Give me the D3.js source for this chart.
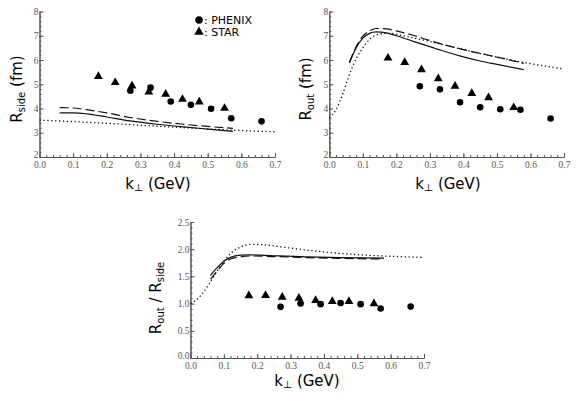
<!DOCTYPE html>
<html>
<head>
<meta charset="utf-8">
<script src="https://cdn.jsdelivr.net/npm/d3@7"></script>
<style>
  body { margin: 0; background: #fff; }
  svg { display: block; }
  .tick text { font-family: "Liberation Serif", "DejaVu Serif", serif; font-size: 9.5px; fill: #555; }
  .domain, .tick line { stroke: #555; }
</style>
</head>
<body>
<svg id="chart" width="577" height="397"></svg>
<script>
// k_T of the data points
const starK = [0.175, 0.225, 0.275, 0.325, 0.375, 0.425, 0.475, 0.55];
const phenixK = [0.27, 0.33, 0.39, 0.45, 0.51, 0.57, 0.66];

// R_side (fm)
const starSide = [5.32, 5.07, 4.93, 4.68, 4.59, 4.38, 4.27, 4.01];
const phenixSide = [4.73, 4.86, 4.29, 4.15, 3.99, 3.60, 3.47];
const sideK = [0.06, 0.1, 0.14, 0.2, 0.27, 0.35, 0.42, 0.5, 0.575];
const solidSide = [3.82, 3.82, 3.78, 3.65, 3.49, 3.35, 3.25, 3.15, 3.06];
const dashedSide = [4.04, 4.02, 3.95, 3.82, 3.63, 3.47, 3.36, 3.26, 3.18];
const dottedK = [0, 0.1, 0.2, 0.3, 0.4, 0.5, 0.6, 0.7];
const dottedSide = [3.52, 3.46, 3.39, 3.31, 3.23, 3.16, 3.09, 3.04];

// R_out (fm)
const starOut = [6.08, 5.90, 5.60, 5.23, 4.92, 4.62, 4.45, 4.04];
const phenixOut = [4.92, 4.79, 4.26, 4.05, 3.97, 3.95, 3.59];
const outK = [0.06, 0.08, 0.1, 0.12, 0.14, 0.17, 0.2, 0.25, 0.3, 0.35, 0.4, 0.45, 0.5, 0.58];
const solidOut = [5.88, 6.5, 6.9, 7.1, 7.16, 7.12, 7.0, 6.77, 6.55, 6.33, 6.13, 5.96, 5.82, 5.6];
const dashedOut = [5.9, 6.55, 6.98, 7.2, 7.3, 7.28, 7.2, 7.02, 6.8, 6.6, 6.43, 6.27, 6.12, 5.86];
const dottedOutK = [0, 0.02, 0.04, 0.06, 0.08, 0.1, 0.12, 0.15, 0.18, 0.22, 0.3, 0.4, 0.5, 0.6, 0.7];
const dottedOut = [3.62, 3.95, 4.6, 5.4, 6.05, 6.5, 6.85, 7.07, 7.1, 7.0, 6.76, 6.43, 6.12, 5.85, 5.63];

// R_out / R_side
const starRatio = [1.145, 1.15, 1.12, 1.10, 1.06, 1.04, 1.04, 1.0];
const phenixRatio = [0.94, 1.0, 0.99, 1.01, 0.99, 0.91, 0.945];
const ratioK = [0.06, 0.08, 0.1, 0.12, 0.15, 0.18, 0.25, 0.35, 0.45, 0.58];
const solidRatio = [1.52, 1.66, 1.78, 1.85, 1.89, 1.895, 1.88, 1.86, 1.845, 1.835];
const dashedRatio = [1.45, 1.6, 1.74, 1.82, 1.86, 1.875, 1.865, 1.845, 1.83, 1.82];
const dottedRatio = [1.0, 1.08, 1.22, 1.4, 1.6, 1.78, 1.92, 2.04, 2.09, 2.08, 2.02, 1.95, 1.9, 1.87, 1.85];

const xTicks = [0, 0.1, 0.2, 0.3, 0.4, 0.5, 0.6, 0.7];

const svg = d3.select("#chart");
const zip = (xs, ys) => xs.map((x, i) => [x, ys[i]]);

function drawPanel(p) {
  const x = d3.scaleLinear().domain([0, 0.7]).range([p.left, p.right]);
  const y = d3.scaleLinear().domain(p.yDomain).range([p.bottom, p.top]);
  const g = svg.append("g");

  // minor ticks
  g.append("g").attr("transform", `translate(0,${p.bottom})`)
    .call(d3.axisBottom(x).tickValues(d3.range(0, 0.701, 0.02)).tickSizeInner(-2).tickSizeOuter(0).tickFormat(""));
  g.append("g").attr("transform", `translate(${p.left},0)`)
    .call(d3.axisLeft(y).tickValues(d3.range(p.yDomain[0], p.yDomain[1] + 1e-6, p.yMinor)).tickSizeInner(-2).tickSizeOuter(0).tickFormat(""));
  // major ticks
  g.append("g").attr("transform", `translate(0,${p.bottom})`)
    .call(d3.axisBottom(x).tickValues(xTicks).tickSizeInner(-4).tickSizeOuter(0).tickPadding(4).tickFormat(d3.format(".1f")));
  g.append("g").attr("transform", `translate(${p.left},0)`)
    .call(d3.axisLeft(y).tickValues(p.yTicks).tickSizeInner(-4).tickSizeOuter(0).tickPadding(1).tickFormat(p.yFormat))
    .call(a => a.selectAll(".tick text").filter(d => d === p.yDomain[0]).attr("dy", "0.1em"));

  const line = d3.line().x(d => x(d[0])).y(d => y(d[1])).curve(d3.curveMonotoneX);
  const curves = [
    { k: p.dottedK, v: p.dotted, dash: "1.3,2.6", w: 1.3 },
    { k: p.curveK, v: p.dashed, dash: "9,4", w: 1.2 },
    { k: p.curveK, v: p.solid, dash: null, w: 1.2 }
  ];
  curves.forEach(c => {
    g.append("path").datum(zip(c.k, c.v))
      .attr("d", line).attr("fill", "none").attr("stroke", "#111")
      .attr("stroke-width", c.w).attr("stroke-dasharray", c.dash);
  });

  g.selectAll(".tri").data(zip(starK, p.star)).join("path")
    .attr("d", d3.symbol(d3.symbolTriangle, 34)())
    .attr("transform", d => `translate(${x(d[0])},${y(d[1])})`)
    .attr("fill", "#000");
  g.selectAll(".dot").data(zip(phenixK, p.phenix)).join("circle")
    .attr("cx", d => x(d[0])).attr("cy", d => y(d[1])).attr("r", 3.3)
    .attr("fill", "#000");

  // axis titles
  const fs = 15;
  g.append("text").attr("transform", `translate(${p.yLabel[0]},${p.yLabel[1]}) rotate(-90)`)
    .attr("text-anchor", "middle").attr("font-family", "DejaVu Sans, sans-serif").attr("font-size", fs)
    .call(t => p.yTitle(t));
  const xl = g.append("text").attr("x", p.xLabel[0]).attr("y", p.xLabel[1])
    .attr("text-anchor", "middle").attr("font-family", "DejaVu Sans, sans-serif").attr("font-size", fs);
  xl.append("tspan").text("k");
  xl.append("tspan").attr("font-size", 10.5).attr("dy", 2).text("⊥");
  xl.append("tspan").attr("dy", -2).text(" (GeV)");
}

function rTitle(sub, suffix) {
  return t => {
    t.append("tspan").text("R");
    t.append("tspan").attr("font-size", 10).attr("dy", 3).text(sub);
    t.append("tspan").attr("dy", -3).text(suffix);
  };
}

drawPanel({
  left: 39.5, right: 275, top: 11.5, bottom: 157,
  yDomain: [2, 8], yTicks: [2, 3, 4, 5, 6, 7, 8], yMinor: 0.2, yFormat: d3.format("d"),
  star: starSide, phenix: phenixSide,
  curveK: sideK, solid: solidSide, dashed: dashedSide, dottedK: dottedK, dotted: dottedSide,
  yLabel: [22, 89], xLabel: [158, 189], yTitle: rTitle("side", " (fm)")
});

drawPanel({
  left: 329.3, right: 564, top: 11.5, bottom: 157,
  yDomain: [2, 8], yTicks: [2, 3, 4, 5, 6, 7, 8], yMinor: 0.2, yFormat: d3.format("d"),
  star: starOut, phenix: phenixOut,
  curveK: outK, solid: solidOut, dashed: dashedOut, dottedK: dottedOutK, dotted: dottedOut,
  yLabel: [311, 89], xLabel: [448, 189], yTitle: rTitle("out", " (fm)")
});

drawPanel({
  left: 190.5, right: 424, top: 222, bottom: 358,
  yDomain: [0, 2.5], yTicks: [0, 0.5, 1, 1.5, 2, 2.5], yMinor: 0.1, yFormat: d3.format(".1f"),
  star: starRatio, phenix: phenixRatio,
  curveK: ratioK, solid: solidRatio, dashed: dashedRatio, dottedK: dottedOutK, dotted: dottedRatio,
  yLabel: [161, 298], xLabel: [307, 386],
  yTitle: t => {
    t.append("tspan").text("R");
    t.append("tspan").attr("font-size", 10).attr("dy", 3).text("out");
    t.append("tspan").attr("dy", -3).text(" / R");
    t.append("tspan").attr("font-size", 10).attr("dy", 3).text("side");
  }
});

// legend
const legend = svg.append("g").attr("font-family", "DejaVu Sans, sans-serif").attr("font-size", 11);
legend.append("circle").attr("cx", 199).attr("cy", 20).attr("r", 3.8).attr("fill", "#000");
legend.append("text").attr("x", 204).attr("y", 24).text(": PHENIX");
legend.append("path").attr("d", d3.symbol(d3.symbolTriangle, 40)()).attr("transform", "translate(199,32)").attr("fill", "#000");
legend.append("text").attr("x", 204).attr("y", 36).text(": STAR");
</script>
</body>
</html>
